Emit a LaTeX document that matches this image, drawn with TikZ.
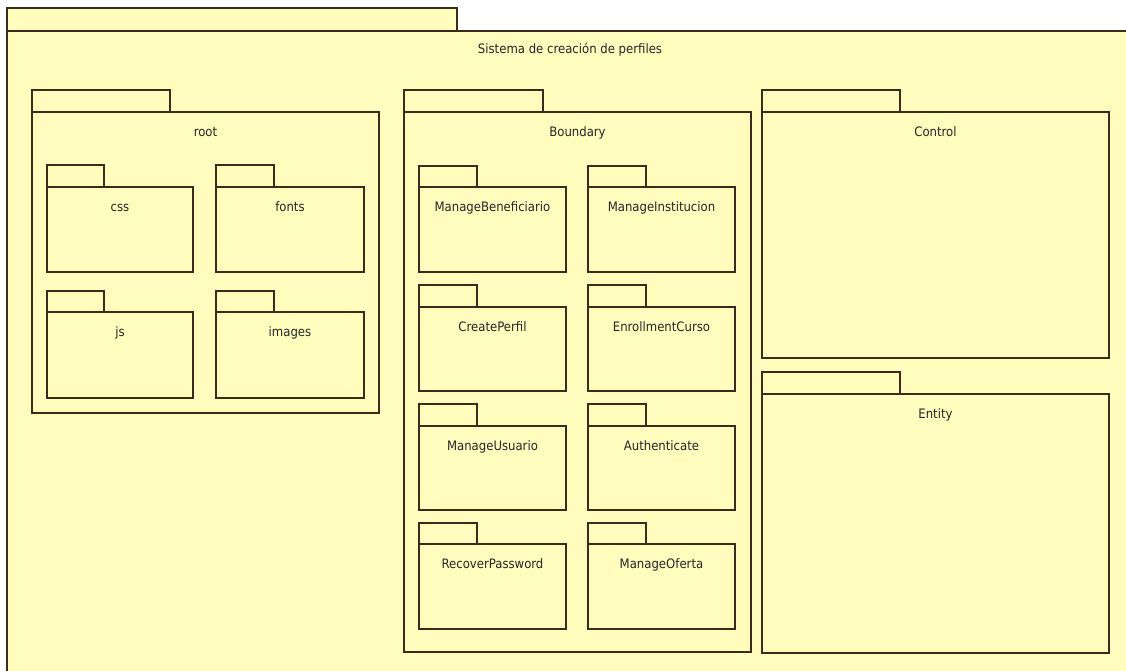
\documentclass[tikz,border=0pt]{standalone}
\usepackage{fontspec}
\setmainfont{DejaVu Sans Condensed}
\definecolor{pkgfill}{RGB}{255,252,190}
\definecolor{pkgline}{RGB}{62,42,26}
\tikzset{
  pkgbody/.style={draw=pkgline, fill=pkgfill, line width=1.2pt, inner sep=0pt, outer sep=0pt, rectangle},
  pkgtab/.style={draw=pkgline, fill=pkgfill, line width=1.2pt},
  pkglabel/.style={font=\fontsize{13}{15}\selectfont, text=black!85, inner sep=0pt, anchor=base}
}
% name, x1, tabtop, bodytop, x2, y2, tabright, label
\newcommand{\umlpkg}[8]{%
  \draw[pkgtab] (#2,#3) rectangle (#7,#4);
  \node[pkgbody, anchor=north west, minimum width={(#5-#2)*1pt}, minimum height={(#6-#4)*1pt}] (#1) at (#2,#4) {};
  \node[pkglabel] (#1-lbl) at ([yshift=-24.5pt]#1.north) {#8};
}
\begin{document}
\begin{tikzpicture}[x=1pt,y=-1pt]
\useasboundingbox (0,0) rectangle (1126,671);
\fill[white] (0,0) rectangle (1126,671);
% outer package
\draw[pkgtab] (7,8) rectangle (457,31);
\node[fill=pkgfill, draw=none, anchor=north west, minimum width=1119pt, minimum height=640pt, inner sep=0pt, outer sep=0pt] (system) at (7,31) {};
\draw[draw=pkgline, line width=1.2pt] (system.north east) -- (system.north west) -- (system.south west);
\node[pkglabel] (system-lbl) at (570,54) {Sistema de creación de perfiles};
% root
\umlpkg{root}{32}{90}{112}{379}{413}{170}{root}
\umlpkg{css}{47}{165}{187}{193}{272}{104}{css}
\umlpkg{fonts}{216}{165}{187}{364}{272}{274}{fonts}
\umlpkg{js}{47}{291}{312}{193}{398}{104}{js}
\umlpkg{images}{216}{291}{312}{364}{398}{274}{images}
% Boundary
\umlpkg{boundary}{404}{90}{112}{751}{652}{543}{Boundary}
\umlpkg{mbenef}{419}{166}{187}{566}{272}{477}{ManageBeneficiario}
\umlpkg{minst}{588}{166}{187}{735}{272}{646}{ManageInstitucion}
\umlpkg{cperfil}{419}{285}{307}{566}{391}{477}{CreatePerfil}
\umlpkg{enroll}{588}{285}{307}{735}{391}{646}{EnrollmentCurso}
\umlpkg{musuario}{419}{404}{426}{566}{510}{477}{ManageUsuario}
\umlpkg{auth}{588}{404}{426}{735}{510}{646}{Authenticate}
\umlpkg{recover}{419}{523}{544}{566}{629}{477}{RecoverPassword}
\umlpkg{moferta}{588}{523}{544}{735}{629}{646}{ManageOferta}
% Control / Entity
\umlpkg{control}{762}{90}{112}{1109}{358}{900}{Control}
\umlpkg{entity}{762}{372}{394}{1109}{653}{900}{Entity}
\end{tikzpicture}
\end{document}
